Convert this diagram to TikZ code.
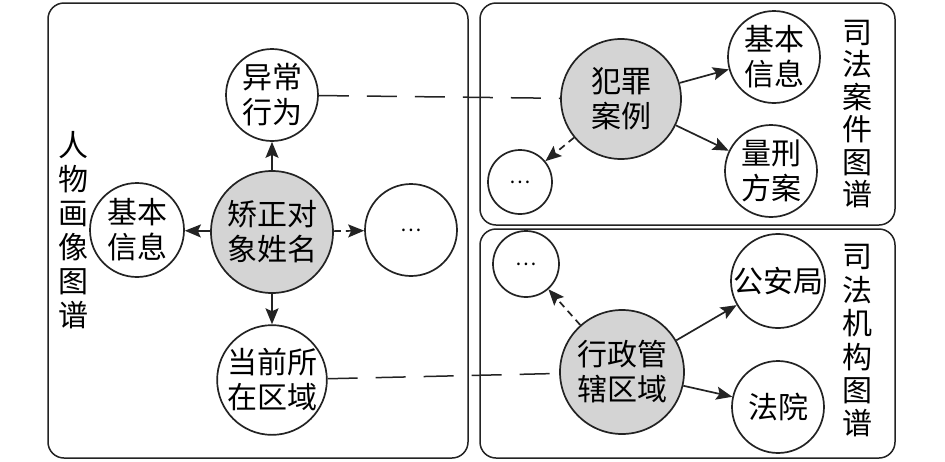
\documentclass[tikz,border=0pt]{standalone}
\usepackage{fontspec}
\setmainfont{Noto Sans CJK SC}
\usetikzlibrary{arrows.meta}
\definecolor{fillg}{RGB}{212,212,212}
\definecolor{lineg}{RGB}{35,35,35}
\tikzset{
  ent/.style={circle,draw=lineg,line width=1.7pt,inner sep=0pt,align=center,
    font=\fontsize{30}{35}\selectfont},
  hub/.style={ent,fill=fillg},
  dotsnode/.style={ent,font=\fontsize{20}{24}\selectfont},
  panel/.style={draw=lineg,line width=1.5pt,rounded corners=16pt},
  arr/.style={draw=lineg,line width=1.7pt,-{Stealth[length=16pt,width=13pt,inset=3pt]}},
  darr/.style={arr,dash pattern=on 7pt off 5pt},
  link/.style={draw=lineg,line width=1.5pt,dash pattern=on 30pt off 18pt},
  vlabel/.style={align=center,font=\fontsize{30}{34}\selectfont,inner sep=0pt}
}
\begin{document}
\begin{tikzpicture}[x=1pt,y=-1pt]
\useasboundingbox[fill=white] (0,0) rectangle (945,461);
% panels
\draw[panel] (48,3) rectangle (468,458);
\draw[panel] (480,3) rectangle (895,225);
\draw[panel] (480,229) rectangle (895,458);
% left panel nodes
\node[hub,minimum size=122pt] (c) at (272,232) {矫正对\\象姓名};
\node[ent,minimum size=92pt] (yc) at (272,95) {异常\\行为};
\node[ent,minimum size=94pt] (jb) at (137,230) {基本\\信息};
\node[dotsnode,minimum size=92pt] (d1) at (411,230) {…};
\node[ent,minimum size=104pt] (cur) at (272,380) {当前所\\在区域};
\node[vlabel] (l1) at (73,230) {人\\物\\画\\像\\图\\谱};
% right top
\node[hub,minimum size=120pt] (fz) at (621,99) {犯罪\\案例};
\node[ent,minimum size=92pt] (jb2) at (774,57) {基本\\信息};
\node[ent,minimum size=92pt] (lx) at (771,171) {量刑\\方案};
\node[dotsnode,minimum size=64pt] (d2) at (520,182) {…};
\node[vlabel,font=\fontsize{30}{32.4}\selectfont] (l2) at (857,114) {司\\法\\案\\件\\图\\谱};
% right bottom
\node[hub,minimum size=124pt] (xz) at (622,372) {行政管\\辖区域};
\node[ent,minimum size=92pt] (ga) at (778,281) {公安局};
\node[ent,minimum size=92pt] (fy) at (778,407) {法院};
\node[dotsnode,minimum size=66pt] (d3) at (526,264) {…};
\node[vlabel,font=\fontsize{30}{33.4}\selectfont] (l3) at (857,341) {司\\法\\机\\构\\图\\谱};
% arrows
\draw[arr] (c) -- (yc);
\draw[arr] (c) -- (jb);
\draw[arr] (c) -- (cur);
\draw[darr] (c) -- (d1);
\draw[arr] (fz) -- (jb2);
\draw[arr] (fz) -- (lx);
\draw[darr] (fz) -- (d2);
\draw[arr] (xz) -- (ga);
\draw[arr] (xz) -- (fy);
\draw[darr] (xz) -- (d3);
% cross links
\draw[link] (yc) -- (fz);
\draw[link] (cur) -- (xz);
\end{tikzpicture}
\end{document}
